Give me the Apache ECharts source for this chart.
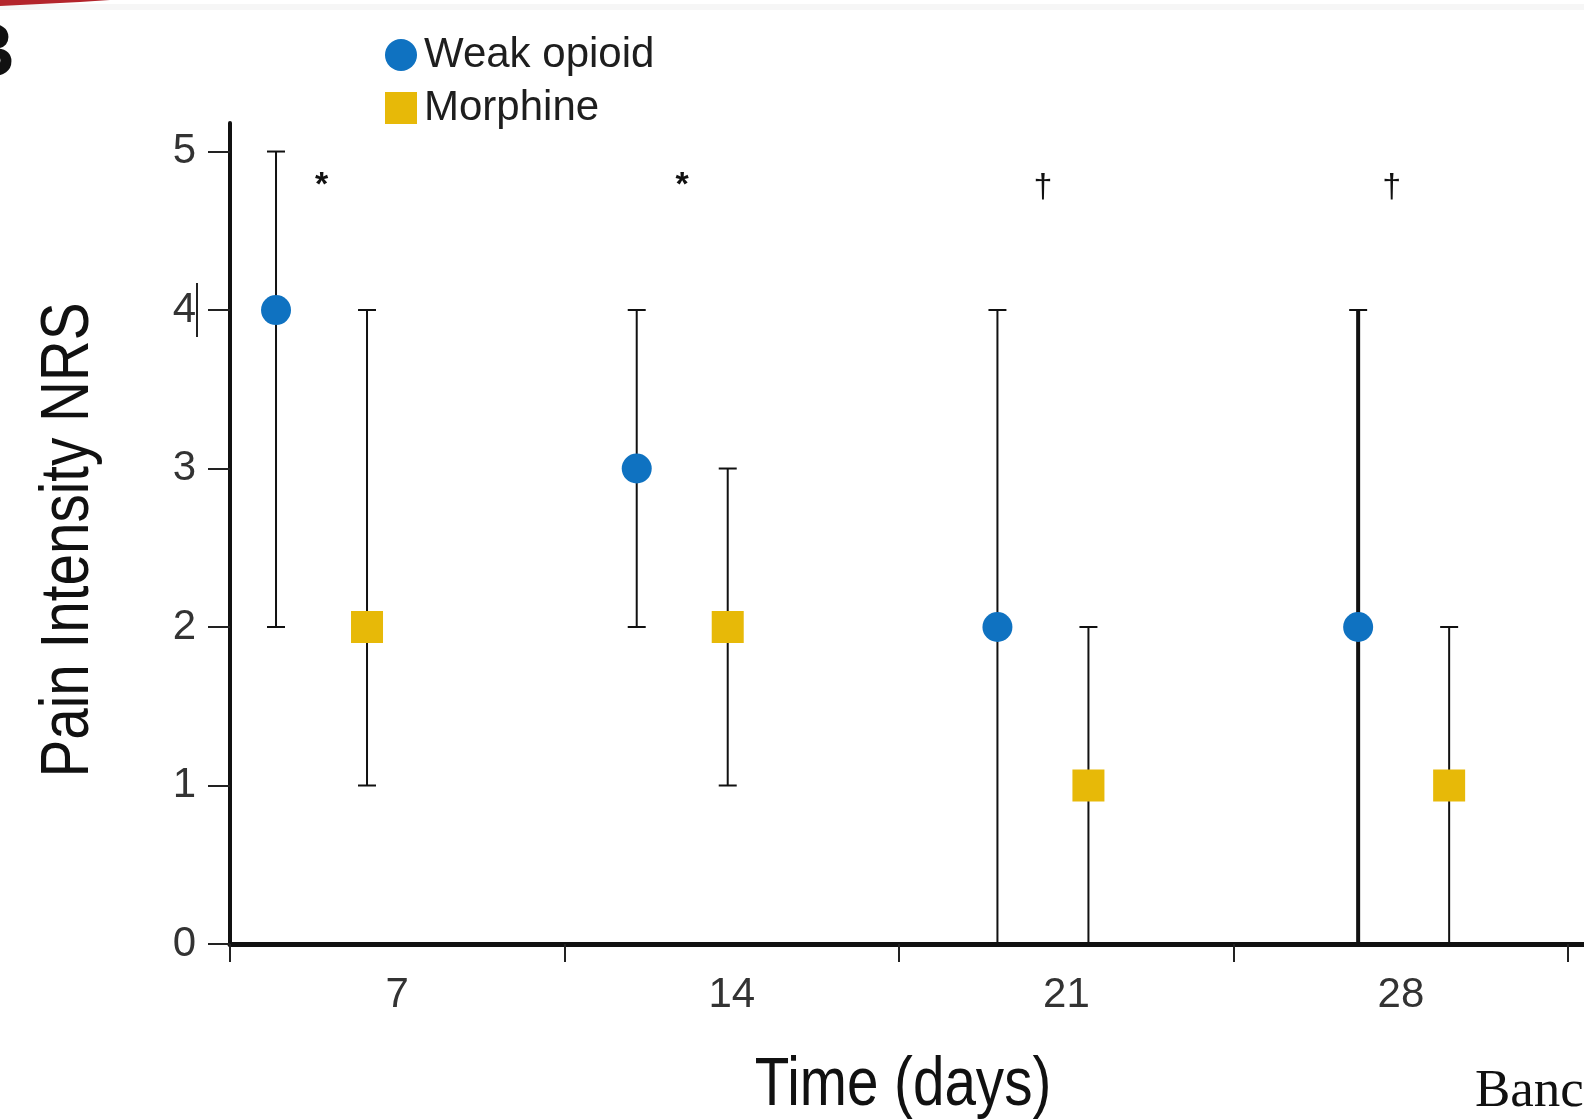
<!DOCTYPE html>
<html>
<head>
<meta charset="utf-8">
<script src="https://cdn.jsdelivr.net/npm/echarts@6/dist/echarts.min.js"></script>
<style>
html,body{margin:0;padding:0;background:#fff;}
#chart{width:1584px;height:1120px;}
</style>
</head>
<body>
<div id="chart"></div>
<script>
// ---- data ----
const days = [7, 14, 21, 28];
const dayTickBounds = [3.5, 10.5, 17.5, 24.5, 31.5];
const yTicks = [0, 1, 2, 3, 4, 5];

const weakMedian = [4, 3, 2, 2];
const weakLow    = [2, 2, 0, 0];
const weakHigh   = [5, 4, 4, 4];

const morphMedian = [2, 2, 1, 1];
const morphLow    = [1, 1, 0, 0];
const morphHigh   = [4, 3, 2, 2];

const significance = ['*', '*', '\u2020', '\u2020'];

const xTitle = 'Time (days)';
const yTitle = 'Pain Intensity NRS';

// ---- chart ----
const BLUE = '#0F72C1';
const YELLOW = '#E7B908';
const PAIR_OFF = 45.5;
const sans = "'Liberation Sans',Arial,Helvetica,sans-serif";

function errorBars(offset, thickIdx) {
  return function (params, api) {
    const day = api.value(0), lo = api.value(1), hi = api.value(2);
    const top = api.coord([day, hi]);
    const bot = api.coord([day, lo]);
    const x = top[0] + offset;
    const w = (thickIdx.indexOf(params.dataIndex) >= 0) ? 4 : 2;
    const cap = 9;
    return {
      type: 'group',
      children: [
        {type: 'line', shape: {x1: x, y1: top[1], x2: x, y2: bot[1]}, style: {stroke: '#111', lineWidth: w}},
        {type: 'line', shape: {x1: x - cap, y1: top[1], x2: x + cap, y2: top[1]}, style: {stroke: '#111', lineWidth: 2}},
        {type: 'line', shape: {x1: x - cap, y1: bot[1], x2: x + cap, y2: bot[1]}, style: {stroke: '#111', lineWidth: 2}}
      ]
    };
  };
}

const chart = echarts.init(document.getElementById('chart'), null, {renderer: 'canvas'});
chart.setOption({
  backgroundColor: '#ffffff',
  animation: false,
  legend: {
    orient: 'vertical',
    left: 380,
    top: 29,
    itemWidth: 32,
    itemHeight: 32,
    itemGap: 11,
    textStyle: {fontFamily: sans, fontSize: 42, color: '#1e1e1e', padding: [0, 0, 0, 2]},
    data: [
      {name: 'Weak opioid', icon: 'circle'},
      {name: 'Morphine', icon: 'rect'}
    ]
  },
  grid: {left: 230, right: 0, top: 123, bottom: 176, containLabel: false, outerBoundsMode: 'none'},
  xAxis: [
    {
      type: 'value',
      min: 3.5,
      max: 31.83,
      axisLine: {show: true, onZero: false, lineStyle: {color: '#111', width: 5}},
      axisTick: {show: true, inside: false, length: 18, lineStyle: {color: '#222', width: 2}, customValues: dayTickBounds},
      axisLabel: {show: true, customValues: days, margin: 30, fontFamily: sans, fontSize: 42, color: '#333'},
      splitLine: {show: false}
    },
    {
      type: 'value',
      min: 5.224,
      max: 31.5,
      show: false
    }
  ],
  yAxis: {
    type: 'value',
    min: 0,
    max: 5.18,
    axisLine: {show: true, onZero: false, lineStyle: {color: '#111', width: 4}},
    axisTick: {show: true, inside: false, length: 22, lineStyle: {color: '#222', width: 2}, customValues: yTicks},
    axisLabel: {show: true, customValues: yTicks, margin: 34, fontFamily: sans, fontSize: 42, color: '#333'},
    splitLine: {show: false}
  },
  series: [
    {
      name: 'Weak opioid bars',
      type: 'custom',
      xAxisIndex: 1,
      renderItem: errorBars(-PAIR_OFF, [3]),
      data: days.map((d, i) => [d, weakLow[i], weakHigh[i]]),
      z: 2,
      silent: true
    },
    {
      name: 'Morphine bars',
      type: 'custom',
      xAxisIndex: 1,
      renderItem: errorBars(PAIR_OFF, []),
      data: days.map((d, i) => [d, morphLow[i], morphHigh[i]]),
      z: 2,
      silent: true
    },
    {
      name: 'Weak opioid',
      type: 'scatter',
      xAxisIndex: 1,
      symbol: 'circle',
      symbolSize: 30,
      symbolOffset: [-PAIR_OFF, 0],
      itemStyle: {color: BLUE, opacity: 1},
      data: days.map((d, i) => [d, weakMedian[i]]),
      z: 5
    },
    {
      name: 'Morphine',
      type: 'scatter',
      xAxisIndex: 1,
      symbol: 'rect',
      symbolSize: 32,
      symbolOffset: [PAIR_OFF, 0],
      itemStyle: {color: YELLOW, opacity: 1},
      data: days.map((d, i) => [d, morphMedian[i]]),
      z: 5
    },
    {
      name: 'Significance',
      type: 'custom',
      xAxisIndex: 1,
      silent: true,
      renderItem: function (params, api) {
        const p = api.coord([api.value(0), 5]);
        const s = significance[params.dataIndex];
        const isStar = s === '*';
        const dx = params.dataIndex === 3 ? -12 : 0;
        return {
          type: 'text',
          style: {
            text: s,
            x: p[0] + dx,
            y: p[1] + (isStar ? 34 : 36),
            align: 'center',
            verticalAlign: 'middle',
            fontFamily: sans,
            fontWeight: isStar ? 'bold' : 'normal',
            fontSize: 34,
            fill: '#111'
          }
        };
      },
      data: days.map(d => [d, 5])
    }
  ],
  graphic: [
    {type: 'rect', shape: {x: 0, y: 4, width: 1584, height: 6}, style: {fill: '#f6f6f6'}, silent: true},
    {type: 'polygon', shape: {points: [[0, 0], [110, 0], [80, 2], [40, 4], [0, 6]]}, style: {fill: '#b3242b'}, silent: true},
    {type: 'text', style: {text: 'B', x: -40, y: 55, verticalAlign: 'middle', fontFamily: sans, fontWeight: 'bold', fontSize: 76, fill: '#111'}, silent: true},
    {type: 'line', shape: {x1: 197, y1: 283, x2: 197, y2: 337}, style: {stroke: '#222', lineWidth: 2}, silent: true},
    {type: 'text', x: 903, y: 1086, scaleX: 0.82, style: {text: xTitle, x: 0, y: 0, align: 'center', verticalAlign: 'middle', fontFamily: sans, fontSize: 69, fill: '#111'}, silent: true},
    {type: 'text', x: 69, y: 540, rotation: Math.PI / 2, scaleX: 0.82, style: {text: yTitle, x: 0, y: 0, align: 'center', verticalAlign: 'middle', fontFamily: sans, fontSize: 69, fill: '#111'}, silent: true},
    {type: 'text', style: {text: 'Banc', x: 1475, y: 1092, verticalAlign: 'middle', fontFamily: "'Liberation Serif','Times New Roman',serif", fontSize: 53, fill: '#111'}, silent: true}
  ]
});
</script>
</body>
</html>
